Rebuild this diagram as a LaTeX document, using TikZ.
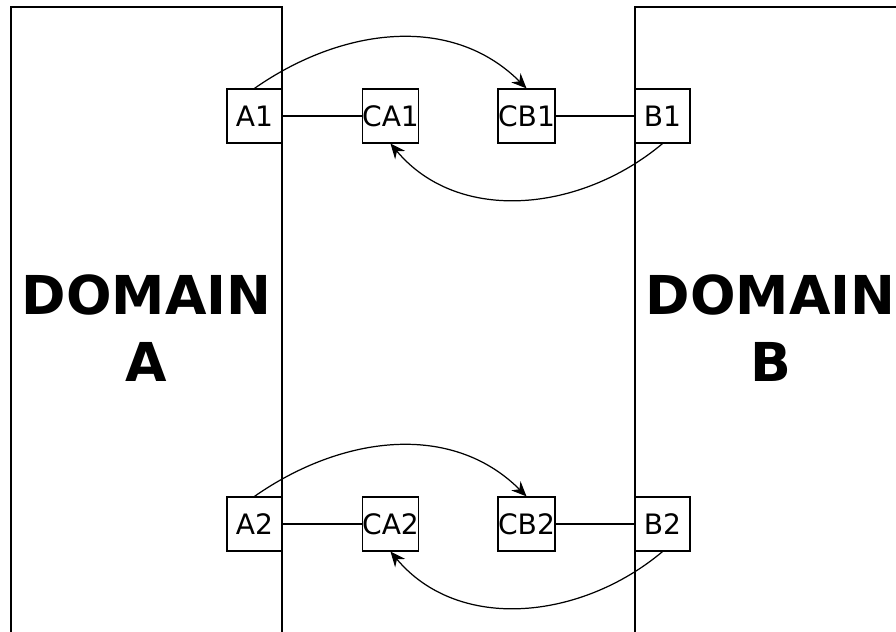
\documentclass[tikz,border=0pt]{standalone}
\usepackage{fontspec}
\setmainfont{DejaVu Sans}
\usetikzlibrary{arrows.meta,positioning}
\tikzstyle{domainbox} = [draw, line width=0.7pt, minimum width=5.42cm, minimum height=12.86cm, inner sep=0pt, align=center, font=\fontsize{30.5}{38}\selectfont\bfseries]
\tikzstyle{port} = [draw, fill=white, line width=0.7pt, minimum width=1.1cm, minimum height=1.08cm, inner sep=0pt, font=\fontsize{16}{19}\selectfont]
\tikzstyle{link} = [draw, line width=0.7pt]
\tikzstyle{arrow} = [draw, line width=0.7pt, -{Stealth[length=0.3cm,width=0.26cm,inset=0.1cm]}]
\newcommand{\domainbox}[2]{node (d#1) [domainbox] {DOMAIN\\#2}}
\newcommand{\port}[2]{node (p#1) [port] {#2}}

\begin{document}
\begin{tikzpicture}
\useasboundingbox (0,0) rectangle (17.92,12.64);
\clip (0,0) rectangle (17.92,12.64);
% the two domains, open at the bottom of the page
\path (2.93,6.07) \domainbox{a}{A};
\path (15.41,6.07) \domainbox{b}{B};
% upper pair of connectors
\path (5.09,10.32) \port{a1}{A1};
\path (pa1)+(2.72,0.0) \port{ca1}{CA1};
\path (pca1)+(2.72,0.0) \port{cb1}{CB1};
\path (pcb1)+(2.72,0.0) \port{b1}{B1};
\path [link] (pa1.east) -- (pca1.west);
\path [link] (pcb1.east) -- (pb1.west);
\path [arrow] (pa1.north) to[out=35,in=135] (pcb1.north);
\path [arrow] (pb1.south) to[out=-140,in=-50] (pca1.south);
% lower pair of connectors
\path (pa1)+(0.0,-8.16) \port{a2}{A2};
\path (pa2)+(2.72,0.0) \port{ca2}{CA2};
\path (pca2)+(2.72,0.0) \port{cb2}{CB2};
\path (pcb2)+(2.72,0.0) \port{b2}{B2};
\path [link] (pa2.east) -- (pca2.west);
\path [link] (pcb2.east) -- (pb2.west);
\path [arrow] (pa2.north) to[out=35,in=135] (pcb2.north);
\path [arrow] (pb2.south) to[out=-140,in=-50] (pca2.south);
\end{tikzpicture}
\end{document}
